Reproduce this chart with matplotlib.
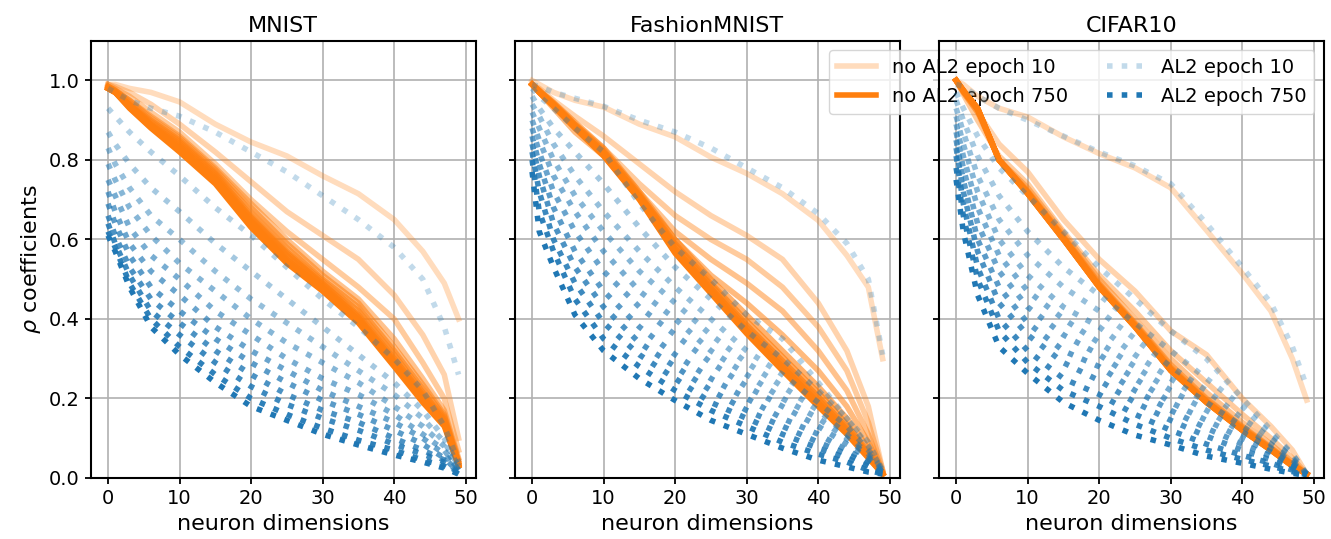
import numpy as np
import matplotlib
matplotlib.use("Agg")
import matplotlib.pyplot as plt

titles = ["MNIST", "FashionMNIST", "CIFAR10"]
dims = [0, 1, 3, 6, 10, 15, 20, 25, 30, 35, 40, 44, 47, 49]
x_ticks = [0, 10, 20, 30, 40, 50]
y_ticks = [0.0, 0.2, 0.4, 0.6, 0.8, 1.0]

# ---- MNIST ----
mnist_noal2 = [
    [0.99, 0.99, 0.98, 0.97, 0.946, 0.89, 0.845, 0.81, 0.76, 0.715, 0.65, 0.57, 0.49, 0.40],
    [0.99, 0.985, 0.97, 0.94, 0.89, 0.82, 0.745, 0.67, 0.61, 0.55, 0.46, 0.36, 0.26, 0.10],
    [0.99, 0.98, 0.96, 0.92, 0.87, 0.79, 0.70, 0.62, 0.55, 0.48, 0.40, 0.29, 0.20, 0.07],
    [0.985, 0.975, 0.95, 0.91, 0.86, 0.78, 0.69, 0.60, 0.52, 0.45, 0.35, 0.25, 0.17, 0.05],
    [0.985, 0.975, 0.95, 0.905, 0.855, 0.775, 0.68, 0.59, 0.51, 0.44, 0.33, 0.235, 0.16, 0.045],
    [0.985, 0.975, 0.945, 0.90, 0.85, 0.77, 0.67, 0.58, 0.50, 0.43, 0.32, 0.225, 0.155, 0.04],
    [0.98, 0.972, 0.94, 0.895, 0.845, 0.765, 0.66, 0.57, 0.495, 0.42, 0.31, 0.215, 0.15, 0.04],
    [0.98, 0.97, 0.94, 0.89, 0.84, 0.76, 0.655, 0.565, 0.49, 0.41, 0.30, 0.21, 0.145, 0.035],
    [0.98, 0.97, 0.935, 0.888, 0.835, 0.755, 0.65, 0.56, 0.485, 0.405, 0.295, 0.205, 0.14, 0.035],
    [0.98, 0.97, 0.935, 0.885, 0.83, 0.75, 0.645, 0.55, 0.48, 0.40, 0.29, 0.20, 0.138, 0.033],
    [0.98, 0.97, 0.932, 0.882, 0.825, 0.745, 0.64, 0.545, 0.475, 0.395, 0.285, 0.195, 0.135, 0.032],
    [0.98, 0.97, 0.93, 0.88, 0.82, 0.74, 0.63, 0.54, 0.47, 0.39, 0.28, 0.19, 0.13, 0.03],
]
mnist_al2 = [
    [0.98, 0.97, 0.95, 0.93, 0.91, 0.87, 0.82, 0.77, 0.71, 0.65, 0.58, 0.50, 0.38, 0.26],
    [0.93, 0.91, 0.87, 0.82, 0.76, 0.68, 0.61, 0.53, 0.45, 0.38, 0.30, 0.22, 0.13, 0.04],
    [0.87, 0.84, 0.79, 0.73, 0.67, 0.59, 0.52, 0.45, 0.38, 0.31, 0.24, 0.17, 0.10, 0.03],
    [0.83, 0.79, 0.73, 0.66, 0.60, 0.52, 0.45, 0.39, 0.33, 0.27, 0.21, 0.15, 0.09, 0.03],
    [0.79, 0.75, 0.68, 0.61, 0.54, 0.47, 0.40, 0.34, 0.29, 0.24, 0.18, 0.13, 0.08, 0.02],
    [0.75, 0.71, 0.63, 0.56, 0.50, 0.42, 0.36, 0.30, 0.25, 0.21, 0.16, 0.11, 0.07, 0.02],
    [0.72, 0.67, 0.59, 0.52, 0.46, 0.38, 0.32, 0.27, 0.22, 0.18, 0.14, 0.10, 0.06, 0.02],
    [0.69, 0.64, 0.56, 0.48, 0.42, 0.35, 0.29, 0.24, 0.195, 0.16, 0.12, 0.085, 0.05, 0.015],
    [0.66, 0.61, 0.53, 0.45, 0.39, 0.32, 0.26, 0.21, 0.17, 0.14, 0.10, 0.07, 0.045, 0.015],
    [0.64, 0.59, 0.51, 0.42, 0.36, 0.29, 0.23, 0.185, 0.15, 0.12, 0.085, 0.06, 0.04, 0.012],
    [0.62, 0.58, 0.49, 0.40, 0.33, 0.26, 0.20, 0.16, 0.125, 0.095, 0.07, 0.045, 0.03, 0.01],
    [0.61, 0.57, 0.48, 0.38, 0.31, 0.24, 0.18, 0.145, 0.11, 0.083, 0.058, 0.04, 0.025, 0.01],
]

# ---- FashionMNIST ----
fashion_noal2 = [
    [1.0, 0.99, 0.97, 0.95, 0.933, 0.89, 0.858, 0.807, 0.766, 0.715, 0.648, 0.56, 0.48, 0.30],
    [0.99, 0.98, 0.95, 0.91, 0.86, 0.79, 0.72, 0.66, 0.61, 0.55, 0.44, 0.32, 0.18, 0.02],
    [0.99, 0.975, 0.94, 0.89, 0.83, 0.74, 0.66, 0.60, 0.55, 0.48, 0.38, 0.27, 0.14, 0.02],
    [0.99, 0.97, 0.935, 0.88, 0.82, 0.72, 0.62, 0.55, 0.49, 0.42, 0.32, 0.22, 0.11, 0.015],
    [0.99, 0.97, 0.93, 0.87, 0.81, 0.71, 0.60, 0.51, 0.44, 0.36, 0.27, 0.18, 0.09, 0.015],
    [0.99, 0.975, 0.945, 0.895, 0.83, 0.72, 0.60, 0.50, 0.41, 0.32, 0.23, 0.15, 0.075, 0.012],
    [0.99, 0.975, 0.943, 0.89, 0.825, 0.715, 0.59, 0.49, 0.395, 0.305, 0.215, 0.135, 0.065, 0.01],
    [0.99, 0.972, 0.94, 0.887, 0.82, 0.71, 0.585, 0.485, 0.385, 0.295, 0.205, 0.128, 0.06, 0.01],
    [0.99, 0.972, 0.94, 0.885, 0.817, 0.707, 0.578, 0.478, 0.378, 0.287, 0.197, 0.122, 0.057, 0.01],
    [0.99, 0.97, 0.937, 0.883, 0.814, 0.704, 0.572, 0.472, 0.371, 0.28, 0.19, 0.117, 0.054, 0.01],
    [0.99, 0.97, 0.936, 0.881, 0.812, 0.702, 0.568, 0.467, 0.366, 0.274, 0.184, 0.113, 0.052, 0.01],
    [0.99, 0.97, 0.935, 0.88, 0.81, 0.70, 0.565, 0.464, 0.363, 0.27, 0.18, 0.11, 0.05, 0.01],
]
fashion_al2 = [
    [0.99, 0.985, 0.97, 0.955, 0.935, 0.90, 0.87, 0.83, 0.78, 0.73, 0.665, 0.59, 0.50, 0.31],
    [0.98, 0.96, 0.93, 0.88, 0.82, 0.69, 0.58, 0.50, 0.41, 0.35, 0.24, 0.15, 0.09, 0.02],
    [0.96, 0.93, 0.88, 0.82, 0.74, 0.63, 0.53, 0.45, 0.37, 0.30, 0.22, 0.15, 0.08, 0.02],
    [0.94, 0.91, 0.84, 0.76, 0.67, 0.57, 0.48, 0.40, 0.32, 0.26, 0.19, 0.13, 0.07, 0.02],
    [0.92, 0.88, 0.80, 0.71, 0.62, 0.52, 0.44, 0.36, 0.29, 0.23, 0.17, 0.11, 0.06, 0.02],
    [0.90, 0.85, 0.76, 0.67, 0.57, 0.47, 0.40, 0.32, 0.26, 0.20, 0.15, 0.10, 0.055, 0.015],
    [0.88, 0.82, 0.72, 0.62, 0.52, 0.43, 0.36, 0.29, 0.23, 0.18, 0.13, 0.085, 0.05, 0.015],
    [0.86, 0.79, 0.68, 0.57, 0.47, 0.38, 0.31, 0.25, 0.20, 0.15, 0.11, 0.07, 0.04, 0.012],
    [0.84, 0.76, 0.64, 0.53, 0.43, 0.34, 0.28, 0.22, 0.17, 0.13, 0.09, 0.06, 0.035, 0.01],
    [0.82, 0.72, 0.60, 0.49, 0.39, 0.31, 0.25, 0.19, 0.15, 0.11, 0.075, 0.05, 0.03, 0.01],
    [0.80, 0.67, 0.57, 0.45, 0.35, 0.28, 0.22, 0.17, 0.13, 0.09, 0.06, 0.04, 0.02, 0.01],
    [0.77, 0.62, 0.53, 0.41, 0.32, 0.25, 0.195, 0.145, 0.11, 0.075, 0.045, 0.028, 0.015, 0.01],
]

# ---- CIFAR10 ----
cifar_noal2 = [
    [1.0, 0.99, 0.96, 0.93, 0.908, 0.858, 0.816, 0.78, 0.73, 0.623, 0.514, 0.42, 0.30, 0.196],
    [1.0, 0.97, 0.92, 0.84, 0.77, 0.65, 0.55, 0.47, 0.37, 0.31, 0.20, 0.13, 0.07, 0.01],
    [1.0, 0.965, 0.90, 0.81, 0.74, 0.62, 0.51, 0.42, 0.32, 0.24, 0.16, 0.10, 0.05, 0.01],
    [1.0, 0.97, 0.92, 0.80, 0.73, 0.615, 0.50, 0.40, 0.30, 0.215, 0.14, 0.085, 0.04, 0.01],
    [1.0, 0.972, 0.925, 0.80, 0.722, 0.608, 0.49, 0.39, 0.285, 0.2, 0.13, 0.077, 0.035, 0.01],
    [1.0, 0.973, 0.927, 0.80, 0.72, 0.605, 0.487, 0.387, 0.28, 0.197, 0.127, 0.075, 0.034, 0.01],
    [1.0, 0.974, 0.928, 0.80, 0.718, 0.603, 0.484, 0.384, 0.276, 0.194, 0.124, 0.073, 0.033, 0.01],
    [1.0, 0.975, 0.929, 0.80, 0.717, 0.602, 0.482, 0.382, 0.273, 0.192, 0.122, 0.072, 0.032, 0.01],
    [1.0, 0.975, 0.93, 0.80, 0.716, 0.601, 0.481, 0.381, 0.272, 0.191, 0.121, 0.071, 0.031, 0.01],
    [1.0, 0.975, 0.93, 0.80, 0.716, 0.60, 0.48, 0.38, 0.271, 0.19, 0.12, 0.07, 0.03, 0.01],
    [1.0, 0.975, 0.93, 0.80, 0.715, 0.60, 0.48, 0.38, 0.27, 0.19, 0.12, 0.07, 0.03, 0.01],
    [1.0, 0.975, 0.93, 0.80, 0.715, 0.60, 0.48, 0.38, 0.27, 0.19, 0.12, 0.07, 0.03, 0.01],
]
cifar_al2 = [
    [0.99, 0.985, 0.96, 0.93, 0.90, 0.86, 0.82, 0.785, 0.74, 0.64, 0.53, 0.44, 0.33, 0.23],
    [0.97, 0.93, 0.86, 0.78, 0.71, 0.62, 0.53, 0.45, 0.37, 0.30, 0.20, 0.12, 0.06, 0.01],
    [0.95, 0.90, 0.81, 0.71, 0.62, 0.53, 0.46, 0.39, 0.32, 0.25, 0.18, 0.11, 0.06, 0.01],
    [0.93, 0.87, 0.76, 0.65, 0.56, 0.48, 0.42, 0.35, 0.28, 0.22, 0.15, 0.10, 0.05, 0.01],
    [0.91, 0.84, 0.72, 0.60, 0.51, 0.43, 0.38, 0.31, 0.25, 0.19, 0.13, 0.085, 0.045, 0.01],
    [0.89, 0.81, 0.68, 0.56, 0.47, 0.40, 0.34, 0.28, 0.22, 0.17, 0.115, 0.075, 0.04, 0.01],
    [0.87, 0.78, 0.64, 0.52, 0.43, 0.36, 0.31, 0.25, 0.19, 0.145, 0.10, 0.065, 0.035, 0.01],
    [0.85, 0.75, 0.60, 0.48, 0.39, 0.32, 0.28, 0.22, 0.17, 0.125, 0.085, 0.055, 0.03, 0.008],
    [0.83, 0.72, 0.57, 0.44, 0.36, 0.29, 0.245, 0.19, 0.145, 0.105, 0.07, 0.045, 0.025, 0.008],
    [0.81, 0.69, 0.53, 0.40, 0.32, 0.25, 0.21, 0.16, 0.12, 0.085, 0.057, 0.037, 0.02, 0.007],
    [0.78, 0.66, 0.50, 0.37, 0.29, 0.22, 0.18, 0.135, 0.10, 0.07, 0.047, 0.03, 0.016, 0.006],
    [0.75, 0.62, 0.46, 0.33, 0.263, 0.19, 0.145, 0.108, 0.083, 0.055, 0.037, 0.022, 0.012, 0.006],
]

panels = [(mnist_noal2, mnist_al2), (fashion_noal2, fashion_al2), (cifar_noal2, cifar_al2)]

fig = plt.figure(figsize=(13.31, 5.39), dpi=100)
left, bottom, w, h, gap = 0.068, 0.1132, 0.2897, 0.8113, 0.0289
axes = []
for i in range(3):
    ax = fig.add_axes([left + i * (w + gap), bottom, w, h], sharey=axes[0] if axes else None)
    axes.append(ax)

n = len(mnist_noal2)
alphas = np.linspace(0.27, 1.0, n)
handles = {}
for ax, title, (orange_set, blue_set) in zip(axes, titles, panels):
    for k, vals in enumerate(orange_set):
        ln, = ax.plot(dims, vals, color="tab:orange", lw=4, alpha=alphas[k], solid_joinstyle="round")
        if k == 0:
            handles["o0"] = ln
        if k == n - 1:
            handles["o1"] = ln
    for k, vals in enumerate(blue_set):
        ln, = ax.plot(dims, vals, color="tab:blue", lw=4, ls=":", alpha=alphas[k])
        if k == 0:
            handles["b0"] = ln
        if k == n - 1:
            handles["b1"] = ln
    ax.set_title(title, fontsize=16)
    ax.set_xlabel("neuron dimensions", fontsize=16)
    ax.set_xticks(x_ticks)
    ax.set_yticks(y_ticks)
    ax.set_ylim(0, 1.1)
    ax.grid(True, color="#b0b0b0", lw=1.2)
    ax.tick_params(labelsize=14, length=4.5, width=1.3)
    for s in ax.spines.values():
        s.set_linewidth(1.5)

axes[0].set_ylabel(r"$\rho$ coefficients", fontsize=16)
for ax in axes[1:]:
    ax.tick_params(labelleft=False)

leg = axes[2].legend([handles["o0"], handles["o1"], handles["b0"], handles["b1"]],
                     ["no AL2 epoch 10", "no AL2 epoch 750", "AL2 epoch 10", "AL2 epoch 750"],
                     loc="upper right", ncol=2, fontsize=14)
leg.set_zorder(1.8)

fig.savefig("out.png", dpi=100)
